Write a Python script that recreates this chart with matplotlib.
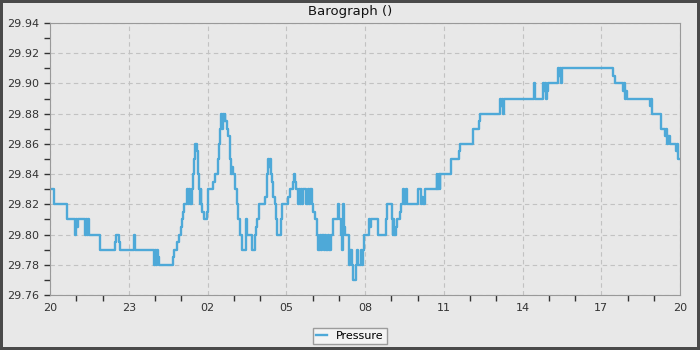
import matplotlib
matplotlib.use("Agg")
import matplotlib.pyplot as plt
from matplotlib.ticker import MultipleLocator

# hours after 20:00 at which the reading changes, and the new reading (inHg)
hours = [0.00, 0.14, 0.65, 0.94, 0.97, 1.00, 1.02, 1.05, 1.35, 1.38, 1.41, 1.44, 1.47,
         1.92, 2.46, 2.50, 2.63, 2.67, 3.19, 3.25, 3.96, 4.00, 4.03, 4.07, 4.10, 4.14,
         4.67, 4.72, 4.85, 4.91, 4.98, 5.03, 5.08, 5.12, 5.20, 5.25, 5.30, 5.35, 5.40,
         5.43, 5.47, 5.52, 5.59, 5.62, 5.66, 5.70, 5.74, 5.77, 5.80, 5.87, 5.97, 6.03,
         6.22, 6.30, 6.40, 6.44, 6.47, 6.51, 6.55, 6.58, 6.61, 6.65, 6.68, 6.73, 6.79,
         6.84, 6.87, 6.90, 6.93, 6.96, 7.06, 7.11, 7.17, 7.24, 7.30, 7.47, 7.52, 7.70,
         7.80, 7.85, 7.90, 7.95, 8.20, 8.25, 8.30, 8.36, 8.39, 8.41, 8.46, 8.51, 8.56,
         8.61, 8.63, 8.79, 8.84, 9.08, 9.14, 9.27, 9.30, 9.35, 9.38, 9.44, 9.48, 9.51,
         9.55, 9.59, 9.65, 9.75, 9.84, 9.87, 9.90, 9.97, 10.03, 10.10, 10.16, 10.20,
         10.29, 10.33, 10.38, 10.43, 10.48, 10.53, 10.58, 10.63, 10.69, 10.79, 10.98,
         11.02, 11.09, 11.12, 11.15, 11.17, 11.21, 11.25, 11.38, 11.43, 11.49, 11.56,
         11.66, 11.70, 11.75, 11.85, 11.90, 11.92, 11.95, 12.15, 12.17, 12.20, 12.23,
         12.50, 12.79, 12.84, 13.02, 13.05, 13.08, 13.11, 13.17, 13.22, 13.32, 13.36,
         13.46, 13.50, 13.55, 13.61, 14.00, 14.13, 14.18, 14.22, 14.29, 14.73, 14.76,
         14.80, 14.84, 14.87, 15.28, 15.58, 15.63, 16.13, 16.34, 16.40, 17.14, 17.19,
         17.23, 17.27, 17.30, 18.44, 18.49, 18.79, 18.83, 18.87, 18.90, 18.95, 18.99,
         19.37, 19.40, 19.44, 19.47, 19.50, 21.46, 21.52, 21.82, 21.86, 21.90, 21.95,
         21.99, 22.86, 22.90, 22.94, 23.26, 23.43, 23.47, 23.50, 23.55, 23.60, 23.84,
         23.88, 23.92, 24.00]
pressure = [29.830, 29.820, 29.810, 29.805, 29.800, 29.810, 29.805, 29.810, 29.800, 29.810, 29.800, 29.810, 29.800,
            29.790, 29.795, 29.800, 29.795, 29.790, 29.800, 29.790, 29.780, 29.790, 29.780, 29.790, 29.785, 29.780,
            29.785, 29.790, 29.795, 29.800, 29.805, 29.810, 29.815, 29.820, 29.830, 29.820, 29.830, 29.820, 29.830,
            29.840, 29.850, 29.860, 29.855, 29.840, 29.830, 29.820, 29.830, 29.820, 29.815, 29.810, 29.815, 29.830,
            29.835, 29.840, 29.850, 29.860, 29.870, 29.880, 29.870, 29.880, 29.875, 29.880, 29.875, 29.870, 29.865,
            29.860, 29.850, 29.840, 29.845, 29.840, 29.830, 29.820, 29.810, 29.800, 29.790, 29.810, 29.800, 29.790,
            29.800, 29.805, 29.810, 29.820, 29.825, 29.840, 29.850, 29.845, 29.850, 29.840, 29.835, 29.825, 29.820,
            29.810, 29.800, 29.810, 29.820, 29.825, 29.830, 29.835, 29.840, 29.835, 29.830, 29.820, 29.830, 29.820,
            29.830, 29.820, 29.830, 29.820, 29.830, 29.820, 29.830, 29.820, 29.815, 29.810, 29.800, 29.790,
            29.800, 29.790, 29.800, 29.790, 29.800, 29.790, 29.800, 29.790, 29.800, 29.810, 29.820,
            29.810, 29.800, 29.790, 29.800, 29.820, 29.805, 29.800, 29.780, 29.790, 29.780, 29.770,
            29.780, 29.790, 29.780, 29.790, 29.780, 29.790, 29.800, 29.805, 29.810, 29.805, 29.810,
            29.800, 29.810, 29.820, 29.810, 29.800, 29.810, 29.800, 29.805, 29.810, 29.815, 29.820,
            29.830, 29.820, 29.830, 29.820, 29.830, 29.820, 29.825, 29.820, 29.830, 29.840, 29.830,
            29.840, 29.830, 29.840, 29.850, 29.855, 29.860, 29.870, 29.875, 29.880, 29.890, 29.885,
            29.890, 29.880, 29.890, 29.900, 29.890, 29.900, 29.895, 29.900, 29.890, 29.895, 29.900,
            29.910, 29.905, 29.910, 29.900, 29.910, 29.905, 29.900, 29.895, 29.900, 29.890, 29.895,
            29.890, 29.885, 29.890, 29.880, 29.870, 29.865, 29.870, 29.860, 29.865, 29.860, 29.855,
            29.860, 29.850, 29.850]

tick_hours = [0, 3, 6, 9, 12, 15, 18, 21, 24]
tick_labels = ["20", "23", "02", "05", "08", "11", "14", "17", "20"]

bg = "#e8e8e8"
fig = plt.figure(figsize=(7, 3.5), dpi=100, facecolor=bg, edgecolor="#4a4a4a", linewidth=4)
ax = fig.add_axes([50/700, 1 - 295/350, 630/700, 272/350])
ax.set_facecolor(bg)

ax.plot(hours, pressure, drawstyle="steps-post", color="#4ea9d8", lw=1.7, label="Pressure")

ax.set_xlim(0, 24)
ax.set_ylim(29.76, 29.94)
ax.set_xticks(tick_hours)
ax.set_xticklabels(tick_labels)
ax.xaxis.set_minor_locator(MultipleLocator(1))
ax.yaxis.set_major_locator(MultipleLocator(0.02))
ax.yaxis.set_minor_locator(MultipleLocator(0.01))
ax.yaxis.set_major_formatter(matplotlib.ticker.FormatStrFormatter("%.2f"))
ax.tick_params(which="both", direction="out", colors="#333333", labelsize=8, width=1)
ax.tick_params(which="major", length=4)
ax.tick_params(which="minor", length=4)
ax.tick_params(axis="x", which="major", length=0, pad=6)

ax.grid(True, which="major", ls=(0, (4, 3)), color="#c2c2c2", lw=0.8)
for s in ax.spines.values():
    s.set_color("#999999")

fig.text(0.5, 1 - 11/350, "Barograph ()", ha="center", va="center", fontsize=9.5, color="#111111")

leg = fig.legend(loc="lower center", bbox_to_anchor=(0.5, 0.0), fontsize=8, frameon=True,
                 fancybox=False, handlelength=1.0, borderpad=0.3, handletextpad=0.8)
leg.get_frame().set_facecolor("#f7f7f7")
leg.get_frame().set_edgecolor("#888888")

fig.savefig("out.png", dpi=100, facecolor=bg)
